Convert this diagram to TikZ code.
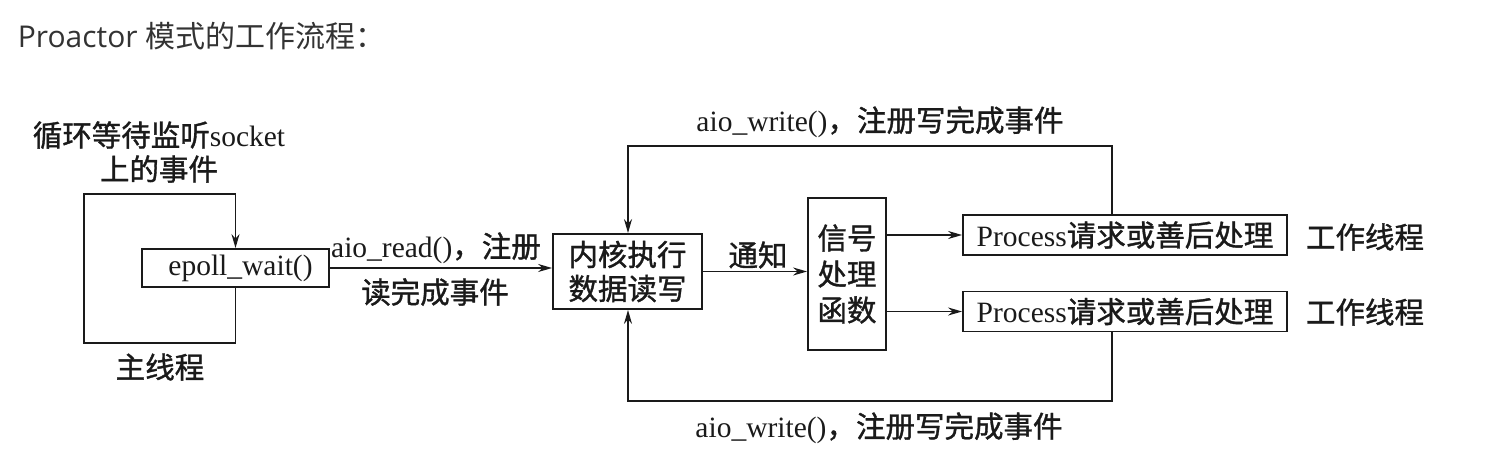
\documentclass[tikz,border=0pt]{standalone}
\usepackage{fontspec}
\usepackage{xcolor}
\setmainfont{Liberation Serif}
\newfontfamily\cjk{Noto Sans CJK SC}
\newfontfamily\cjkmed[FakeBold=1.2]{Noto Sans CJK SC}
\newfontfamily\titlefont{Open Sans}
\usetikzlibrary{arrows.meta}
\definecolor{titlegray}{HTML}{333333}
\definecolor{inkgray}{HTML}{1A1A1A}
\newcommand{\zh}[1]{{\cjkmed #1}}

\begin{document}
\begin{tikzpicture}[x=1pt,y=-1pt,>={Stealth[length=14pt,width=8pt]},line width=1.8pt,draw=inkgray,
    every node/.style={font=\fontsize{29.5}{34}\selectfont,text=inkgray,inner sep=0pt},
    box node/.style={draw,rectangle,line width=1.8pt}]
    \useasboundingbox (0,0) rectangle (1502,469);

    \node[anchor=base west,text=titlegray,font=\fontsize{30}{36}\selectfont] (title) at (17,47) {\titlefont Proactor {\cjk 模式的工作流程：}};

    \node[align=center] (listen) at (159,152) {\zh{循环等待监听}socket\\\zh{上的事件}};
    \node[box node, minimum width=187, minimum height=38] (epoll) at (235.5,268) {\hspace{10pt}epoll\_wait()};
    \node[] (mainth) at (160,367) {\zh{主线程}};

    \node[box node, minimum width=149, minimum height=75, align=center] (kernel) at (627.5,271.5) {\zh{内核执行}\\\zh{数据读写}};
    \node[box node, minimum width=78, minimum height=152, align=center, font=\fontsize{29.5}{36}\selectfont] (signal) at (847,274) {\zh{信号}\\\zh{处理}\\\zh{函数}};

    \node[box node, minimum width=324, minimum height=40] (proc1) at (1125,235) {Process\zh{请求或善后处理}};
    \node[box node, minimum width=324, minimum height=40] (proc2) at (1125,311.5) {Process\zh{请求或善后处理}};
    \node[] (work1) at (1365,237) {\zh{工作线程}};
    \node[] (work2) at (1365,312) {\zh{工作线程}};

    \node[] (readlbl) at (436,248) {aio\_read()\zh{，注册}};
    \node[] (readlbl2) at (435,292) {\zh{读完成事件}};
    \node[] (notify) at (758,255) {\zh{通知}};
    \node[] (writetop) at (880,122) {aio\_write()\zh{，注册写完成事件}};
    \node[] (writebot) at (879,428) {aio\_write()\zh{，注册写完成事件}};

    \coordinate (loopbl) at (84,343);
    \coordinate (looptl) at (84,194);
    \coordinate (toptr) at (1112,146);
    \coordinate (toptl) at (628,146);
    \coordinate (botbr) at (1112,401);
    \coordinate (botbl) at (628,401);

    \draw[->] (epoll.south) |- (loopbl) -- (looptl) -| (epoll.north);
    \draw[->] (epoll.east) -- (epoll.east -| kernel.west);
    \draw[->] (kernel.east) -- (kernel.east -| signal.west);
    \draw[->] (signal.east |- proc1.west) -- (proc1.west);
    \draw[->] (signal.east |- proc2.west) -- (proc2.west);
    \draw[->] (proc1.north -| toptr) -- (toptr) -- (toptl) -- (kernel.north -| toptl);
    \draw[->] (proc2.south -| botbr) -- (botbr) -- (botbl) -- (kernel.south -| botbl);
\end{tikzpicture}
\end{document}
